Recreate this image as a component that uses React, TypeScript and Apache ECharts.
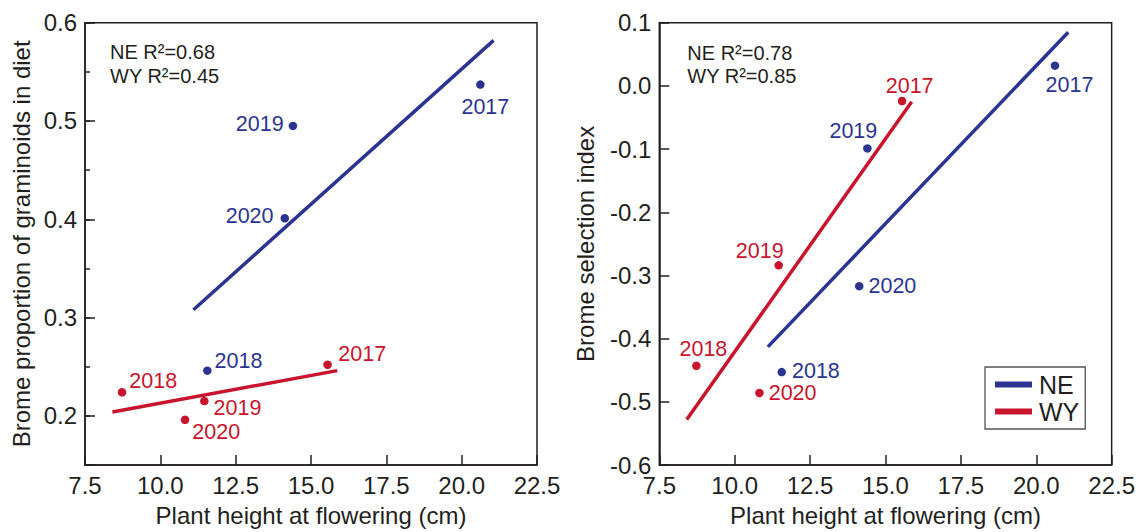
import { useEffect, useRef } from 'react';
import * as echarts from 'echarts';

// Study years and site data
const years = ['2017', '2018', '2019', '2020'];
const heightNE = [20.62, 11.56, 14.4, 14.13];
const heightWY = [15.55, 8.73, 11.46, 10.82];

// Brome proportion of graminoids in diet
const propNE = [0.537, 0.246, 0.495, 0.401];
const propWY = [0.252, 0.224, 0.215, 0.196];

// Brome selection index
const selNE = [0.032, -0.453, -0.099, -0.317];
const selWY = [-0.024, -0.443, -0.284, -0.486];

// Regression line end points (x, and y per panel)
const fitXNE = [11.1, 21.06];
const fitXWY = [8.41, 15.87];
const propFitNE = [0.308, 0.582];
const propFitWY = [0.204, 0.246];
const selFitNE = [-0.413, 0.085];
const selFitWY = [-0.528, -0.025];

// Coefficients of determination [NE, WY]
const r2Prop = [0.68, 0.45];
const r2Sel = [0.78, 0.85];

const xTicks = { min: 7.5, max: 22.5, step: 2.5 };

const NE_COLOR = '#2b3491';
const WY_COLOR = '#c8142c';
const INK = '#231f20';
const FONT = '"Liberation Sans", Arial, Helvetica, sans-serif';

type Place = [string, number, number, number];
// label placement per year: [position, distance, dx, dy]
const propLabelNE: Record<string, Place> = {
  '2017': ['bottom', 7, 5, 0],
  '2018': ['right', 3, 0, -10],
  '2019': ['left', 5, 0, -2],
  '2020': ['left', 7, 0, -2],
};
const propLabelWY: Record<string, Place> = {
  '2017': ['right', 6.5, 0, -11],
  '2018': ['right', 3, 0, -11],
  '2019': ['right', 5, 0, 7],
  '2020': ['right', 3, 0, 12],
};
const selLabelNE: Record<string, Place> = {
  '2017': ['bottom', 4, 14.5, 0],
  '2018': ['right', 6, 0, -1],
  '2019': ['top', 2, -14, 0],
  '2020': ['right', 5, 0, 0],
};
const selLabelWY: Record<string, Place> = {
  '2017': ['top', 0, 7.6, 0],
  '2018': ['top', 2, 7, 0],
  '2019': ['top', 0, -19, 1],
  '2020': ['right', 5, 0, 0],
};

const fmt1 = (v: number) => (Math.abs(v) < 1e-9 ? '0.0' : v.toFixed(1));

function points(xs: number[], ys: number[], place: Record<string, Place>) {
  return years.map((yr, i) => {
    const [position, distance, dx, dy] = place[yr];
    return {
      name: yr,
      value: [xs[i], ys[i]],
      label: { position, distance, offset: [dx, dy] },
    };
  });
}

function scatter(name: string, color: string, xi: number, yi: number, data: any[]) {
  return {
    type: 'scatter',
    name,
    xAxisIndex: xi,
    yAxisIndex: yi,
    symbol: 'circle',
    symbolSize: 8.5,
    itemStyle: { color, opacity: 1 },
    z: 5,
    label: {
      show: true,
      formatter: (p: any) => p.name,
      color,
      opacity: 1,
      fontSize: 21.5,
      fontFamily: FONT,
    },
    data,
  };
}

function fitLine(name: string, color: string, xi: number, yi: number, xs: number[], ys: number[]) {
  return {
    type: 'line',
    name,
    xAxisIndex: xi,
    yAxisIndex: yi,
    color,
    showSymbol: false,
    symbol: 'none',
    lineStyle: { color, width: 3.5, cap: 'butt' },
    itemStyle: { color },
    z: 3,
    data: xs.map((x, i) => [x, ys[i]]),
  };
}

function xAxis(gridIndex: number) {
  return {
    type: 'value',
    gridIndex,
    min: xTicks.min,
    max: xTicks.max,
    interval: xTicks.step,
    name: 'Plant height at flowering (cm)',
    nameLocation: 'middle',
    nameGap: 38,
    nameTextStyle: { fontSize: 24, color: INK, fontFamily: FONT },
    axisLine: { show: true, onZero: false, lineStyle: { color: INK, width: 1.5 } },
    axisTick: { show: true, inside: true, length: 10, lineStyle: { color: INK, width: 1.5 } },
    axisLabel: {
      fontSize: 24,
      color: INK,
      fontFamily: FONT,
      margin: 8,
      showMinLabel: true,
      showMaxLabel: true,
      formatter: fmt1,
    },
    splitLine: { show: false },
  };
}

const yTitleStyle = { fontSize: 24, color: INK, fontFamily: FONT };

const option: any = {
  animation: false,
  backgroundColor: '#ffffff',
  textStyle: { fontFamily: FONT },
  grid: [
    { left: 85, top: 22.7, width: 452, height: 442.8, show: true, borderColor: INK, borderWidth: 1.5, backgroundColor: 'transparent' },
    { left: 659.3, top: 22.7, width: 455, height: 442.8, show: true, borderColor: INK, borderWidth: 1.5, backgroundColor: 'transparent' },
  ],
  xAxis: [xAxis(0), xAxis(1)],
  yAxis: [
    {
      type: 'value',
      gridIndex: 0,
      min: 0.15,
      max: 0.6,
      interval: 0.05,
      name: 'Brome proportion of graminoids in diet',
      nameLocation: 'middle',
      nameGap: 52,
      nameTextStyle: yTitleStyle,
      axisLine: { show: true, onZero: false, lineStyle: { color: INK, width: 1.5 } },
      axisTick: { show: true, inside: true, length: 5, lineStyle: { color: INK, width: 1.5 } },
      axisLabel: {
        fontSize: 24,
        color: INK,
        fontFamily: FONT,
        margin: 8,
        showMinLabel: true,
        showMaxLabel: true,
        formatter: (v: number) => (Math.abs(v * 10 - Math.round(v * 10)) < 1e-6 ? v.toFixed(1) : ''),
      },
      splitLine: { show: false },
    },
    {
      // long ticks at the labelled values, measured down from the top (0.6)
      type: 'value',
      gridIndex: 0,
      position: 'left',
      inverse: true,
      min: 0,
      max: 0.45,
      interval: 0.1,
      axisLine: { show: false },
      axisTick: { show: true, inside: true, length: 10, lineStyle: { color: INK, width: 1.5 } },
      axisLabel: { show: false },
      splitLine: { show: false },
    },
    {
      type: 'value',
      gridIndex: 1,
      min: -0.6,
      max: 0.1,
      interval: 0.1,
      name: 'Brome selection index',
      nameLocation: 'middle',
      nameGap: 62,
      nameTextStyle: yTitleStyle,
      axisLine: { show: true, onZero: false, lineStyle: { color: INK, width: 1.5 } },
      axisTick: { show: true, inside: true, length: 10, lineStyle: { color: INK, width: 1.5 } },
      axisLabel: {
        fontSize: 24,
        color: INK,
        fontFamily: FONT,
        margin: 8,
        showMinLabel: true,
        showMaxLabel: true,
        formatter: fmt1,
      },
      splitLine: { show: false },
    },
  ],
  legend: {
    data: ['NE', 'WY'],
    orient: 'vertical',
    left: 985,
    top: 367,
    padding: [5, 6, 5, 10],
    itemWidth: 37,
    itemHeight: 6,
    itemGap: 2,
    icon: 'rect',
    borderColor: '#555555',
    borderWidth: 1.3,
    backgroundColor: '#ffffff',
    selectedMode: false,
    textStyle: { fontSize: 25, lineHeight: 22, color: INK, fontFamily: FONT, padding: [0, 0, 0, 2] },
  },
  graphic: [
    { type: 'text', x: 110, y: 52.2, style: { text: `NE R²=${r2Prop[0].toFixed(2)}`, fontSize: 20, fontFamily: FONT, fill: INK, verticalAlign: 'middle' } },
    { type: 'text', x: 110, y: 75.9, style: { text: `WY R²=${r2Prop[1].toFixed(2)}`, fontSize: 20, fontFamily: FONT, fill: INK, verticalAlign: 'middle' } },
    { type: 'text', x: 687.3, y: 53.4, style: { text: `NE R²=${r2Sel[0].toFixed(2)}`, fontSize: 20, fontFamily: FONT, fill: INK, verticalAlign: 'middle' } },
    { type: 'text', x: 687.3, y: 76, style: { text: `WY R²=${r2Sel[1].toFixed(2)}`, fontSize: 20, fontFamily: FONT, fill: INK, verticalAlign: 'middle' } },
  ],
  series: [
    fitLine('NE', NE_COLOR, 0, 0, fitXNE, propFitNE),
    fitLine('WY', WY_COLOR, 0, 0, fitXWY, propFitWY),
    scatter('NE years', NE_COLOR, 0, 0, points(heightNE, propNE, propLabelNE)),
    scatter('WY years', WY_COLOR, 0, 0, points(heightWY, propWY, propLabelWY)),
    fitLine('NE', NE_COLOR, 1, 2, fitXNE, selFitNE),
    fitLine('WY', WY_COLOR, 1, 2, fitXWY, selFitWY),
    scatter('NE years', NE_COLOR, 1, 2, points(heightNE, selNE, selLabelNE)),
    scatter('WY years', WY_COLOR, 1, 2, points(heightWY, selWY, selLabelWY)),
  ],
};

export default function App() {
  const ref = useRef<HTMLDivElement>(null);
  useEffect(() => {
    const chart = echarts.init(ref.current!, null, { renderer: 'svg' });
    chart.setOption(option);
    return () => chart.dispose();
  }, []);
  return (
    <div
      ref={ref}
      style={{ position: 'absolute', left: 0, top: 0, width: 1138, height: 532, background: '#fff' }}
    />
  );
}
